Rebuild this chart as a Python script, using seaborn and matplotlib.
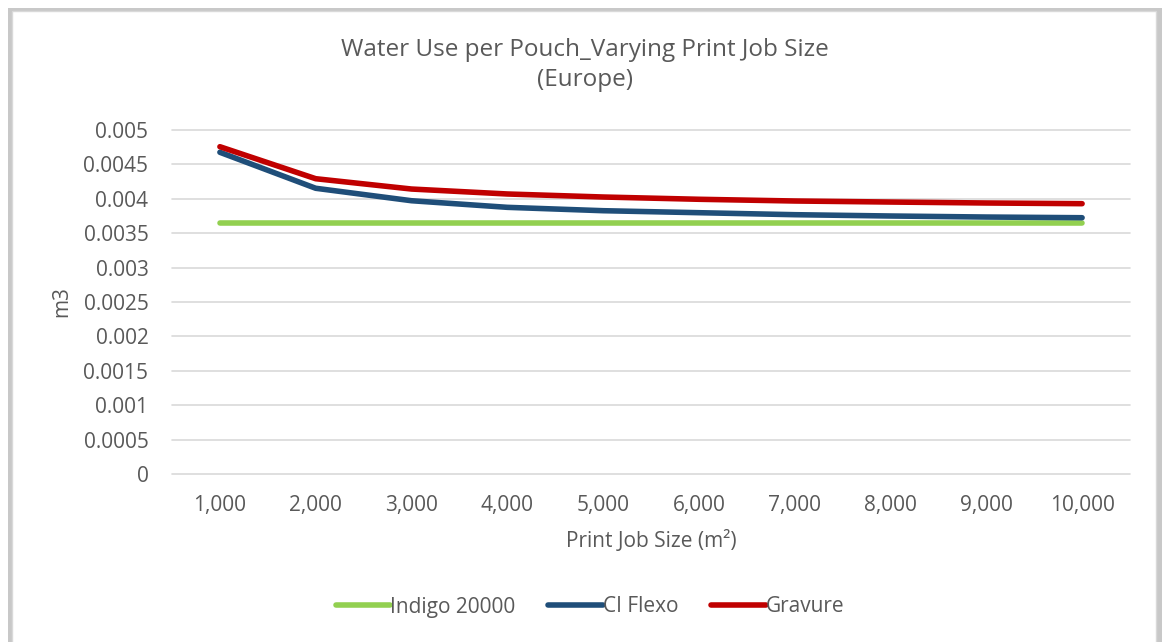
import matplotlib
matplotlib.use("Agg")
import matplotlib.pyplot as plt
import seaborn as sns
import pandas as pd
from matplotlib.patches import Rectangle
from matplotlib.lines import Line2D

job_sizes = ["1,000", "2,000", "3,000", "4,000", "5,000", "6,000", "7,000", "8,000", "9,000", "10,000"]
indigo = [0.003644] * 10
ci_flexo = [0.004676, 0.004153, 0.003972, 0.003876, 0.003827, 0.003798, 0.003769, 0.003750, 0.003735, 0.003725]
gravure = [0.004757, 0.004292, 0.004142, 0.004070, 0.004026, 0.003993, 0.003968, 0.003953, 0.003939, 0.003929]
series_names = ["Indigo 20000", "CI Flexo", "Gravure"]
colors = ["#92D050", "#1F4E79", "#C00000"]
y_ticks = [0, 0.0005, 0.001, 0.0015, 0.002, 0.0025, 0.003, 0.0035, 0.004, 0.0045, 0.005]
y_tick_labels = ["0", "0.0005", "0.001", "0.0015", "0.002", "0.0025", "0.003", "0.0035", "0.004", "0.0045", "0.005"]

rows = []
for name, vals in zip(series_names, [indigo, ci_flexo, gravure]):
    for i, v in enumerate(vals):
        rows.append({"idx": i, "value": v, "series": name})
df = pd.DataFrame(rows)

sns.set_theme(style="white")
plt.rcParams["font.family"] = ["Open Sans", "DejaVu Sans"]
text_color = "#595959"
fs = 15

fig = plt.figure(figsize=(11.66, 6.42), dpi=100)
fig.patch.set_facecolor("white")

# chart frame with shadow
fig.patches.append(Rectangle((8 / 1166, -0.02), 1162 / 1166 - 8 / 1166, 1 - 8 / 642 + 0.02,
                             transform=fig.transFigure, facecolor="#c8c8c8", edgecolor="none", zorder=-3))
fig.patches.append(Rectangle((12 / 1166, -0.02), 1156 / 1166 - 12 / 1166, 1 - 11 / 642 + 0.02,
                             transform=fig.transFigure, facecolor="white", edgecolor="#d9d9d9", lw=1, zorder=-2))

ax = fig.add_axes([172 / 1166, 168 / 642, 958 / 1166, 344 / 642])
ax.set_zorder(2)
ax.set_facecolor("none")
sns.lineplot(data=df, x="idx", y="value", hue="series", palette=colors, hue_order=series_names,
             linewidth=4.0, ax=ax, legend=False, solid_capstyle="round")

ax.set_xlim(-0.5, 9.5)
ax.set_ylim(0, 0.005)
ax.set_yticks(y_ticks)
ax.set_yticklabels(y_tick_labels)
ax.set_xticks(range(len(job_sizes)))
ax.set_xticklabels(job_sizes)
ax.grid(axis="y", color="#d9d9d9", lw=1.2)
ax.set_axisbelow(True)
for gl in ax.get_ygridlines():
    gl.set_clip_on(False)
for s in ax.spines.values():
    s.set_visible(False)
ax.tick_params(axis="y", length=0, labelsize=fs, colors=text_color, pad=17)
ax.tick_params(axis="x", length=0, labelsize=fs, colors=text_color, pad=15)

ax.set_xlabel("Print Job Size (m²)", fontsize=fs, color=text_color, labelpad=10)
ax.set_ylabel("m3", fontsize=fs, color=text_color, labelpad=8)

fig.text(585 / 1166, 1 - 65 / 642, "Water Use per Pouch_Varying Print Job Size\n(Europe)",
         ha="center", va="center", fontsize=17.5, color=text_color, linespacing=1.35)

handles = [Line2D([0], [0], color=c, lw=4.0, solid_capstyle="round") for c in colors]
fig.legend(handles, series_names, loc="center", bbox_to_anchor=(590 / 1166, 1 - 607 / 642), ncol=3,
           frameon=False, labelcolor=text_color, handlelength=2.6, handletextpad=0.0,
           columnspacing=1.6, prop={"size": fs})

fig.savefig("out.png", dpi=100)
